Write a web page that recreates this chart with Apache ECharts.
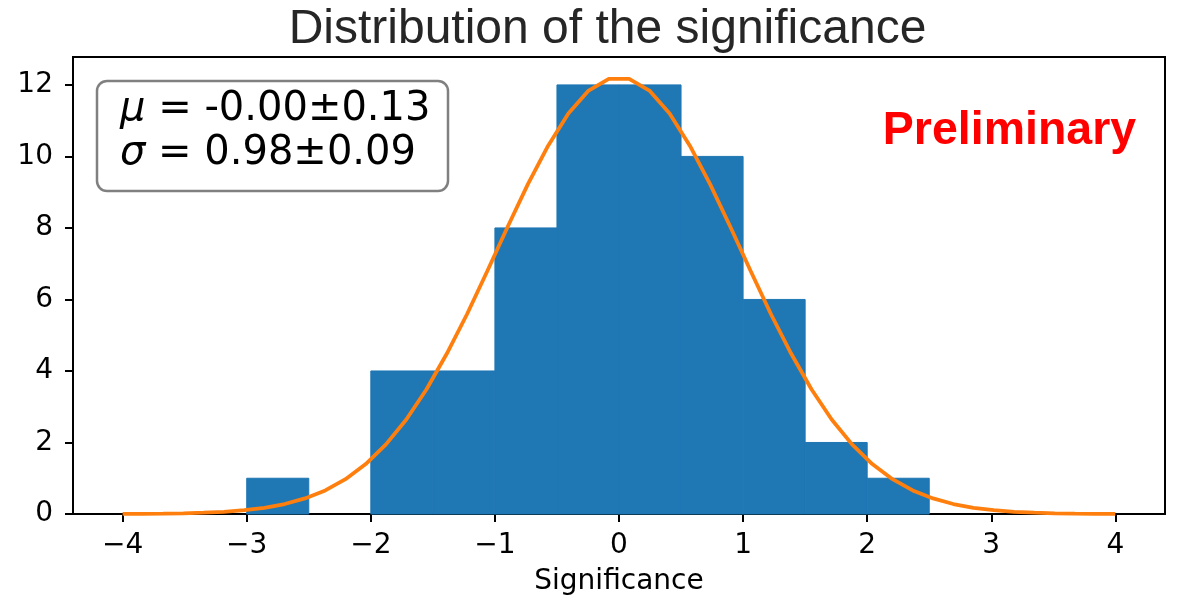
<!DOCTYPE html>
<html>
<head>
<meta charset="utf-8">
<script src="https://cdn.jsdelivr.net/npm/echarts@6/dist/echarts.min.js"></script>
<style>
html,body{margin:0;padding:0;background:#fff;}
#chart{width:1179px;height:605px;}
</style>
</head>
<body>
<div id="chart"></div>
<script>
// Histogram bins (left edge, right edge) and counts
const binLeft  = [-3.0, -2.5, -2.0, -1.5, -1.0, -0.5, 0.0, 0.5, 1.0, 1.5, 2.0];
const binRight = [-2.5, -2.0, -1.5, -1.0, -0.5, 0.0, 0.5, 1.0, 1.5, 2.0, 2.5];
const counts   = [1, 0, 4, 4, 8, 12, 12, 10, 6, 2, 1];

// Fitted curve points
const curveX = [-4.000, -3.837, -3.673, -3.510, -3.347, -3.184, -3.020, -2.857, -2.694, -2.531,
                -2.367, -2.204, -2.041, -1.878, -1.714, -1.551, -1.388, -1.224, -1.061, -0.898,
                -0.735, -0.571, -0.408, -0.245, -0.082, 0.082, 0.245, 0.408, 0.571, 0.735,
                0.898, 1.061, 1.224, 1.388, 1.551, 1.714, 1.878, 2.041, 2.204, 2.367,
                2.531, 2.694, 2.857, 3.020, 3.184, 3.347, 3.510, 3.673, 3.837, 4.000];
const curveY = [0.003, 0.006, 0.011, 0.020, 0.036, 0.062, 0.106, 0.174, 0.279, 0.435,
                0.660, 0.973, 1.397, 1.947, 2.643, 3.488, 4.480, 5.593, 6.794, 8.025,
                9.219, 10.30, 11.20, 11.84, 12.17, 12.17, 11.84, 11.20, 10.30, 9.219,
                8.025, 6.794, 5.593, 4.480, 3.488, 2.643, 1.947, 1.397, 0.973, 0.660,
                0.435, 0.279, 0.174, 0.106, 0.062, 0.036, 0.020, 0.011, 0.006, 0.003];

const xTicks = [-4, -3, -2, -1, 0, 1, 2, 3, 4];
const yTicks = [0, 2, 4, 6, 8, 10, 12];

const titleText = 'Distribution of the significance';
const xLabel = 'Significance';
const muText = '-0.00±0.13';
const sigmaText = '0.98±0.09';
const stampText = 'Preliminary';

const chart = echarts.init(document.getElementById('chart'), null, {renderer: 'canvas'});

const histData = binLeft.map((l, i) => [l, binRight[i], counts[i]]);
const lineData = curveX.map((x, i) => [x, curveY[i]]);

const fmt = v => (v < 0 ? '\u2212' + Math.abs(v) : String(v));

const option = {
  animation: false,
  backgroundColor: '#ffffff',
  grid: {left: 73, right: 14, top: 57, bottom: 91, outerBoundsMode: 'none', containLabel: false,
         show: true, borderColor: '#000', borderWidth: 2, backgroundColor: 'transparent'},
  xAxis: {
    type: 'value', min: -4.4, max: 4.4,
    name: xLabel, nameLocation: 'middle', nameGap: 54,
    nameTextStyle: {fontFamily: 'DejaVu Sans', fontSize: 28, color: '#000'},
    axisLine: {show: true, onZero: false, lineStyle: {color: '#000', width: 2}},
    axisTick: {show: true, length: 8, inside: false, customValues: xTicks, lineStyle: {color: '#000', width: 2}},
    axisLabel: {customValues: xTicks, formatter: fmt, fontFamily: 'DejaVu Sans', fontSize: 28, color: '#000', margin: 18},
    splitLine: {show: false}
  },
  yAxis: {
    type: 'value', min: 0, max: 12.78,
    axisLine: {show: true, onZero: false, lineStyle: {color: '#000', width: 2}},
    axisTick: {show: true, length: 8, inside: false, customValues: yTicks, lineStyle: {color: '#000', width: 2}},
    axisLabel: {customValues: yTicks, formatter: fmt, fontFamily: 'DejaVu Sans', fontSize: 28, color: '#000', margin: 20},
    splitLine: {show: false}
  },
  series: [
    {
      type: 'custom',
      data: histData,
      encode: {x: [0, 1], y: 2},
      renderItem: function (params, api) {
        if (!(api.value(2) > 0)) return null;
        const p0 = api.coord([api.value(0), 0]);
        const p1 = api.coord([api.value(1), api.value(2)]);
        return {
          type: 'rect',
          shape: {x: p0[0], y: p1[1], width: p1[0] - p0[0], height: p0[1] - p1[1]},
          style: {fill: '#1f77b4', stroke: '#1f77b4', lineWidth: 1}
        };
      },
      z: 1
    },
    {
      type: 'line',
      data: lineData,
      showSymbol: false,
      symbol: 'none',
      lineStyle: {color: '#ff7f0e', width: 3.8},
      z: 3
    }
  ],
  graphic: [
    {
      type: 'text', x: 607.5, y: 30, z: 11,
      style: {text: titleText, fontFamily: 'Liberation Sans', fontSize: 48, fill: '#262626', align: 'center', verticalAlign: 'middle'}
    },
    {
      type: 'rect', shape: {x: 97, y: 81, width: 351, height: 110, r: 10},
      style: {fill: '#fff', stroke: '#808080', lineWidth: 2.5}, z: 10
    },
    {
      type: 'text', x: 120, y: 110, z: 11,
      style: {
        text: '{i|\u03bc} = ' + muText,
        fontFamily: 'DejaVu Sans', fontSize: 40, fill: '#000', verticalAlign: 'middle', align: 'left',
        rich: {i: {fontFamily: 'DejaVu Sans', fontStyle: 'italic', fontSize: 40, fill: '#000'}}
      }
    },
    {
      type: 'text', x: 120, y: 154, z: 11,
      style: {
        text: '{i|\u03c3} = ' + sigmaText,
        fontFamily: 'DejaVu Sans', fontSize: 40, fill: '#000', verticalAlign: 'middle', align: 'left',
        rich: {i: {fontFamily: 'DejaVu Sans', fontStyle: 'italic', fontSize: 40, fill: '#000'}}
      }
    },
    {
      type: 'text', x: 1009.5, y: 131, z: 11,
      style: {text: stampText, fontFamily: 'Liberation Sans', fontWeight: 'bold', fontSize: 46.5, fill: '#ff0000', align: 'center', verticalAlign: 'middle'}
    }
  ]
};
chart.setOption(option);
</script>
</body>
</html>
